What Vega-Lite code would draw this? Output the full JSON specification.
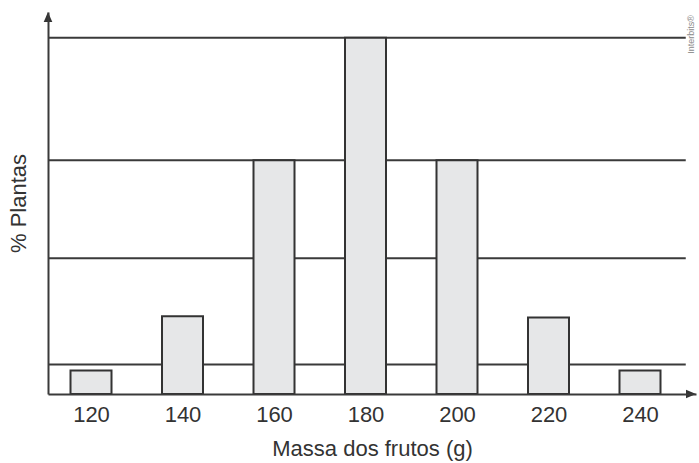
{
  "$schema": "https://vega.github.io/schema/vega-lite/v6.json",
  "width": 648,
  "height": 382,
  "autosize": {"type": "none"},
  "padding": {"left": 48, "top": 12, "right": 3, "bottom": 69},
  "background": "white",
  "config": {"view": {"stroke": null}, "font": "Liberation Sans"},
  "layer": [
    {
      "data": {"values": [{"pct": 8.3}, {"pct": 38.1}, {"pct": 65.6}, {"pct": 100}]},
      "mark": {"type": "rule", "color": "#3a3a3a", "strokeWidth": 2},
      "encoding": {
        "y": {"field": "pct", "type": "quantitative", "scale": {"domain": [0, 107.2], "nice": false, "zero": false, "padding": 0}},
        "x": {"datum": 110.6, "type": "quantitative", "scale": {"domain": [110.6, 252.24], "nice": false, "zero": false, "padding": 0}},
        "x2": {"datum": 250}
      }
    },
    {
      "data": {"values": [
        {"mass": 120, "pct": 6.6},
        {"mass": 140, "pct": 21.8},
        {"mass": 160, "pct": 65.6},
        {"mass": 180, "pct": 100},
        {"mass": 200, "pct": 65.6},
        {"mass": 220, "pct": 21.5},
        {"mass": 240, "pct": 6.6}
      ]},
      "mark": {"type": "bar", "width": 41, "fill": "#e6e7e8", "stroke": "#333333", "strokeWidth": 2},
      "encoding": {
        "x": {"field": "mass", "type": "quantitative", "scale": {"domain": [110.6, 252.24], "nice": false, "zero": false, "padding": 0},
          "axis": {"values": [120, 140, 160, 180, 200, 220, 240], "format": "d", "ticks": false, "grid": false,
            "domainColor": "#3a3a3a", "domainWidth": 2, "labelFontSize": 22, "labelColor": "#333333", "labelPadding": 10,
            "title": "Massa dos frutos (g)", "titleFontSize": 22, "titleFontWeight": "normal", "titleColor": "#333333", "titlePadding": 13, "zindex": 1}},
        "y": {"field": "pct", "type": "quantitative", "scale": {"domain": [0, 107.2], "nice": false, "zero": false, "padding": 0},
          "axis": {"ticks": false, "labels": false, "grid": false, "domainColor": "#3a3a3a", "domainWidth": 2,
            "title": "% Plantas", "titleFontSize": 22, "titleFontWeight": "normal", "titleColor": "#333333", "titlePadding": 18, "zindex": 1}}
      }
    },
    {
      "data": {"values": [
        {"mass": 110.6, "pct": 107.2, "dir": "up"},
        {"mass": 252.24, "pct": 0, "dir": "right"}
      ]},
      "mark": {"type": "point", "filled": true, "color": "#333333", "opacity": 1, "size": 100, "strokeWidth": 0},
      "encoding": {
        "x": {"field": "mass", "type": "quantitative"},
        "y": {"field": "pct", "type": "quantitative"},
        "shape": {"field": "dir", "type": "nominal", "legend": null,
          "scale": {"domain": ["up", "right"], "range": ["M0,0L0.86,2L-0.86,2Z", "M0,0L-2,-0.86L-2,0.86Z"]}}
      }
    },
    {
      "data": {"values": [{"mass": 252.24, "pct": 107.2, "label": "Interbits®"}]},
      "mark": {"type": "text", "angle": 270, "align": "right", "baseline": "bottom", "dx": -3, "dy": 0, "fontSize": 9, "color": "#8a8a8a"},
      "encoding": {
        "x": {"field": "mass", "type": "quantitative"},
        "y": {"field": "pct", "type": "quantitative"},
        "text": {"field": "label"}
      }
    }
  ]
}
